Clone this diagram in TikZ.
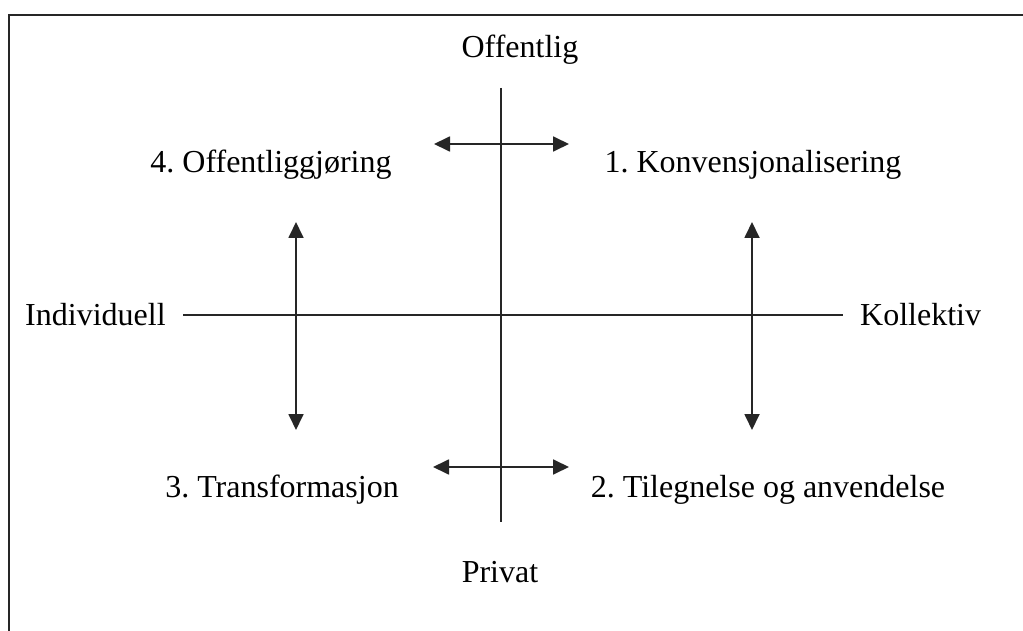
\documentclass[tikz,border=0pt]{standalone}
\usepackage{fontspec}
\setmainfont{Liberation Serif}
\usetikzlibrary{arrows.meta}
\frenchspacing
\begin{document}
\begin{tikzpicture}[x=1pt,y=-1pt,
  lbl/.style={font=\fontsize{32}{38}\selectfont, inner sep=0pt},
  axis/.style={line width=1.8pt, draw=black!85},
  dbl/.style={line width=1.8pt, draw=black!85, {Triangle[length=16pt,width=15pt]}-{Triangle[length=16pt,width=15pt]}}]
\useasboundingbox (0,0) rectangle (1023,631);
\fill[white] (0,0) rectangle (1023,631);
% frame (top and left edges, extends beyond the picture)
\coordinate (fr0) at (9,632);
\coordinate (fr1) at (9,15);
\coordinate (fr2) at (1024,15);
\draw[line width=2.5pt, draw=black!85] (fr0) -- (fr1) -- (fr2);
% axes
\coordinate (vt) at (501,88);
\coordinate (vb) at (501,522);
\coordinate (hl) at (183,315);
\coordinate (hr) at (843,315);
\draw[axis] (vt) -- (vb);
\draw[axis] (hl) -- (hr);
% arrows
\coordinate (ta) at (434,144); \coordinate (tb) at (569,144);
\coordinate (ba) at (433,467); \coordinate (bb) at (569,467);
\coordinate (la) at (296,222); \coordinate (lb) at (296,430);
\coordinate (ra) at (752,222); \coordinate (rb) at (752,430);
\draw[dbl] (ta) -- (tb);
\draw[dbl] (ba) -- (bb);
\draw[dbl] (la) -- (lb);
\draw[dbl] (ra) -- (rb);
% labels
\node[lbl, anchor=base] (off) at (520,58) {Offentlig};
\node[lbl, anchor=base] (q4) at (271,173) {4. Offentliggjøring};
\node[lbl, anchor=base] (q1) at (753,173) {1. Konvensjonalisering};
\node[lbl, anchor=base west] (ind) at (25,325) {Individuell};
\node[lbl, anchor=base west] (kol) at (860,325) {Kollektiv};
\node[lbl, anchor=base] (q3) at (282,497) {3. Transformasjon};
\node[lbl, anchor=base] (q2) at (768,497) {2. Tilegnelse og anvendelse};
\node[lbl, anchor=base] (pri) at (500,582) {Privat};
\end{tikzpicture}
\end{document}
